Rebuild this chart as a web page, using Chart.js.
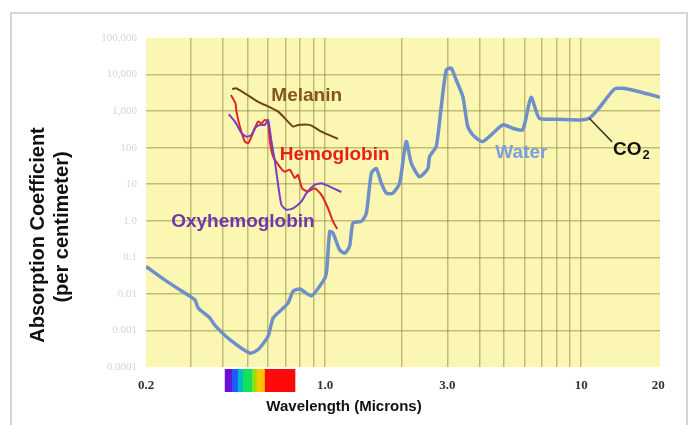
<!DOCTYPE html>
<html>
<head>
<meta charset="utf-8">
<script src="https://cdn.jsdelivr.net/npm/chart.js@4.4.1/dist/chart.umd.min.js"></script>
<style>
  html, body { margin: 0; padding: 0; background: #fff; }
  #wrap { position: relative; width: 693px; height: 425px; overflow: hidden; }
  #absChart { position: absolute; left: 0; top: 0; }
  #frame { position: absolute; left: 10px; top: 12px; width: 678px; height: 440px;
           border: 2px solid #d6d6d6; box-sizing: border-box; pointer-events: none; }
</style>
</head>
<body>
<div id="wrap">
  <canvas id="absChart" width="693" height="425"></canvas>
  <div id="frame"></div>
</div>
<script>
// wavelengths in microns, absorption in 1/cm
const waterWl = [0.2, 0.241, 0.297, 0.31, 0.32, 0.355, 0.371, 0.425, 0.509, 0.548, 0.599, 0.627, 0.676, 0.717, 0.75, 0.797, 0.885, 0.982, 1.012, 1.043, 1.074, 1.14, 1.193, 1.247, 1.285, 1.386, 1.449, 1.516, 1.585, 1.658, 1.734, 1.84, 1.954, 2.074, 2.17, 2.338, 2.52, 2.558, 2.716, 2.842, 2.972, 3.108, 3.25, 3.45, 3.606, 3.772, 4.126, 4.94, 5.4, 5.91, 6.37, 6.86, 7.97, 9.83, 10.75, 11.58, 13.45, 14.49, 16.84, 20.3];
const waterAbs = [0.056, 0.022, 0.0086, 0.007, 0.0041, 0.0022, 0.0014, 0.00056, 0.00024, 0.0003, 0.00069, 0.0022, 0.0037, 0.0056, 0.0117, 0.0136, 0.0089, 0.022, 0.037, 0.51, 0.46, 0.16, 0.13, 0.2, 0.87, 0.96, 1.6, 20, 27, 10.7, 5.7, 5.7, 10.7, 147, 38, 16, 27, 57, 107, 1330, 13400, 14900, 7100, 2500, 380, 224, 147, 420, 340, 306, 2400, 640, 600, 575, 640, 1080, 3960, 4230, 3400, 2400];

const melaninWl = [0.434, 0.451, 0.548, 0.656, 0.75, 0.784, 0.871, 0.968, 1.123];
const melaninAbs = [4000, 4200, 1800, 970, 380, 420, 420, 275, 174];

const hemoWl = [0.429, 0.447, 0.451, 0.465, 0.486, 0.501, 0.516, 0.532, 0.548, 0.565, 0.582, 0.599, 0.609, 0.627, 0.666, 0.696, 0.728, 0.762, 0.784, 0.813, 0.858, 0.911, 0.968, 1.027, 1.074, 1.115];
const hemoAbs = [2770, 1640, 970, 380, 147, 133, 200, 340, 517, 467, 575, 517, 147, 57, 30, 22, 25, 14.7, 18, 7.8, 6.3, 7.8, 5.1, 2.2, 0.96, 0.6];

const oxyWl = [0.421, 0.445, 0.472, 0.494, 0.516, 0.532, 0.556, 0.582, 0.599, 0.618, 0.637, 0.656, 0.676, 0.707, 0.75, 0.809, 0.846, 0.911, 0.968, 1.043, 1.158];
const oxyAbs = [820, 517, 250, 200, 224, 340, 420, 420, 575, 147, 42, 9.6, 2.7, 2.0, 2.2, 3.4, 5.7, 9.6, 10.7, 8.6, 6.1];

const xGridValues = [0.2, 0.3, 0.4, 0.5, 0.6, 0.7, 0.8, 0.9, 1, 2, 3, 4, 5, 6, 7, 8, 9, 10, 20];
const xTickValues = [0.2, 1, 3, 10, 20];
const xTickText = ['0.2', '1.0', '3.0', '10', '20'];
const yTickValues = [1e-4, 1e-3, 1e-2, 0.1, 1, 10, 100, 1e3, 1e4, 1e5];
const yTickText = ['0.0001', '0.001', '0.01', '0.1', '1.0', '10', '100', '1,000', '10,000', '100,000'];

// visible spectrum strip under the axis
const spectrumEdges = [0.406, 0.433, 0.457, 0.478, 0.518, 0.541, 0.582, 0.762];
const spectrumColors = ['#6a0fd8', '#1e5cff', '#00b8d0', '#12e05a', '#8ee010', '#ffc400', '#ff0a0a'];

const plotBg = '#fbf7b2';
const gridColor = 'rgba(150, 140, 70, 0.55)';
const sans = '"Liberation Sans", Arial, sans-serif';
const serif = '"Liberation Serif", "Times New Roman", serif';

const curveLabels = [
  { text: 'Melanin', x: 0.848, y: 2600, color: '#84561c' },
  { text: 'Hemoglobin', x: 1.09, y: 63, color: '#e8201a' },
  { text: 'Oxyhemoglobin', x: 0.478, y: 0.94, color: '#7036b0' },
  { text: 'Water', x: 5.84, y: 72, color: '#7d9de0' }
];

function pts(xs, ys) {
  return xs.map((v, i) => ({ x: v, y: ys[i] }));
}

const decorPlugin = {
  id: 'decor',
  beforeDraw(chart) {
    const { ctx, chartArea: a } = chart;
    ctx.save();
    ctx.fillStyle = plotBg;
    ctx.fillRect(a.left, a.top, a.right - a.left, a.bottom - a.top);
    ctx.restore();
  },
  afterDraw(chart) {
    const { ctx, chartArea: a } = chart;
    const x = chart.scales.x, y = chart.scales.y;
    ctx.save();

    // spectrum strip
    for (let i = 0; i < spectrumColors.length; i++) {
      const x0 = x.getPixelForValue(spectrumEdges[i]);
      const x1 = x.getPixelForValue(spectrumEdges[i + 1]);
      ctx.fillStyle = spectrumColors[i];
      ctx.fillRect(x0, a.bottom + 2, x1 - x0 + 0.5, 23);
    }

    // CO2 pointer
    ctx.strokeStyle = '#3a3a2a';
    ctx.lineWidth = 1.5;
    ctx.beginPath();
    ctx.moveTo(x.getPixelForValue(10.75), y.getPixelForValue(640));
    ctx.lineTo(x.getPixelForValue(13.2), y.getPixelForValue(144));
    ctx.stroke();

    ctx.textAlign = 'center';
    ctx.textBaseline = 'middle';
    ctx.font = 'bold 19px ' + sans;
    curveLabels.forEach(l => {
      ctx.fillStyle = l.color;
      ctx.fillText(l.text, x.getPixelForValue(l.x), y.getPixelForValue(l.y));
    });

    // CO2 with subscript
    const cx = x.getPixelForValue(13.3), cy = y.getPixelForValue(90);
    ctx.fillStyle = '#111';
    ctx.textAlign = 'left';
    ctx.fillText('CO', cx, cy);
    const w = ctx.measureText('CO').width;
    ctx.font = 'bold 13px ' + sans;
    ctx.fillText('2', cx + w + 1, cy + 6);

    // axis titles
    ctx.fillStyle = '#111';
    ctx.textAlign = 'center';
    ctx.font = 'bold 15px ' + sans;
    ctx.fillText('Wavelength (Microns)', 344, 407);

    ctx.font = 'bold 20px ' + sans;
    ctx.translate(38, 235);
    ctx.rotate(-Math.PI / 2);
    ctx.fillText('Absorption Coefficient', 0, 0);
    ctx.fillText('(per centimeter)', 8, 24);
    ctx.restore();
  }
};

const chart = new Chart(document.getElementById('absChart').getContext('2d'), {
  type: 'scatter',
  data: {
    datasets: [
      { label: 'Water', data: pts(waterWl, waterAbs), borderColor: '#6f8fca', borderWidth: 3.5, order: 4 },
      { label: 'Melanin', data: pts(melaninWl, melaninAbs), borderColor: '#6e4216', borderWidth: 2, order: 3 },
      { label: 'Hemoglobin', data: pts(hemoWl, hemoAbs), borderColor: '#e0261c', borderWidth: 2, order: 2 },
      { label: 'Oxyhemoglobin', data: pts(oxyWl, oxyAbs), borderColor: '#7a3cc6', borderWidth: 2, order: 1 }
    ]
  },
  options: {
    responsive: false,
    animation: false,
    showLine: true,
    datasets: { scatter: { pointRadius: 0, tension: 0.2, fill: false } },
    layout: { padding: { left: 0, top: 38, right: 33, bottom: 0 } },
    plugins: { legend: { display: false }, tooltip: { enabled: false } },
    scales: {
      x: {
        type: 'logarithmic',
        min: 0.2,
        max: 20.3,
        afterBuildTicks: s => { s.ticks = xGridValues.map(v => ({ value: v })); },
        afterFit: s => { s.height = 58; },
        border: { display: false },
        grid: {
          drawTicks: false,
          lineWidth: 1.5,
          color: ctx => (ctx.tick && ctx.tick.value > 0.2 && ctx.tick.value <= 10) ? gridColor : 'transparent'
        },
        ticks: {
          autoSkip: false,
          maxRotation: 0,
          padding: 11,
          color: '#333',
          font: { family: serif, weight: 'bold', size: 13 },
          callback: v => { const i = xTickValues.indexOf(v); return i < 0 ? '' : xTickText[i]; }
        }
      },
      y: {
        type: 'logarithmic',
        min: 1e-4,
        max: 1e5,
        afterBuildTicks: s => { s.ticks = yTickValues.map(v => ({ value: v })); },
        afterFit: s => { s.width = 146; },
        border: { display: false },
        grid: {
          drawTicks: false,
          lineWidth: 1.5,
          color: ctx => (ctx.tick && ctx.tick.value > 1e-4 && ctx.tick.value < 1e5) ? gridColor : 'transparent'
        },
        ticks: {
          padding: 9,
          color: '#d6d6d6',
          font: { family: serif, size: 11 },
          callback: v => { const i = yTickValues.indexOf(v); return i < 0 ? '' : yTickText[i]; }
        }
      }
    }
  },
  plugins: [decorPlugin]
});
</script>
</body>
</html>
